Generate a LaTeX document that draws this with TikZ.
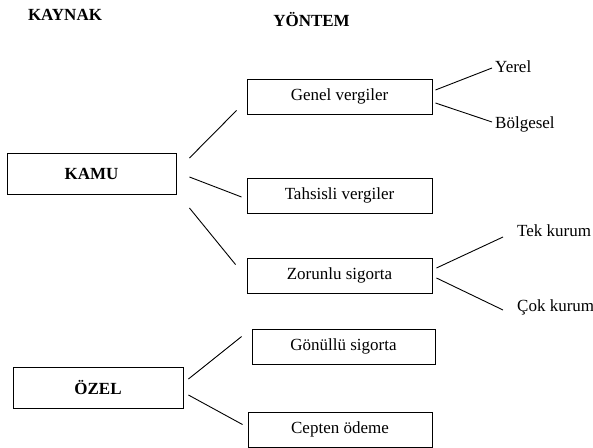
\documentclass[tikz,border=0pt]{standalone}
\usepackage{fontspec}
\setmainfont{Liberation Serif}
\begin{document}
\begin{tikzpicture}[x=1pt,y=-1pt,
  every node/.style={font=\fontsize{17}{20}\selectfont},
  bigbox/.style={draw,line width=0.9pt,minimum width=169pt,minimum height=41pt,inner sep=0pt,font=\fontsize{17}{20}\selectfont\bfseries},
  subbox/.style={draw,line width=0.9pt,minimum width=185pt,minimum height=35pt,inner sep=0pt},
  leaf/.style={anchor=west,inner sep=0pt},
  title/.style={inner sep=0pt,font=\fontsize{17}{20}\selectfont\bfseries},
  conn/.style={line width=0.9pt}]
\useasboundingbox (0,0) rectangle (593,447);
\node[title] (kaynak) at (65,15) {KAYNAK};
\node[title] (yontem) at (311.5,20) {YÖNTEM};
\node[bigbox] (kamu) at (91.5,173.5) {KAMU};
\node[bigbox,minimum width=170pt] (ozel) at (98,387.5) {ÖZEL};
\node[subbox] (genel) at (339.5,96.5) {Genel vergiler};
\node[subbox] (tahsisli) at (339.5,195.5) {Tahsisli vergiler};
\node[subbox] (zorunlu) at (339.5,275.5) {Zorunlu sigorta};
\node[subbox,minimum width=183pt] (gonullu) at (343.5,346.5) {Gönüllü sigorta};
\node[subbox,minimum width=184pt] (cepten) at (340,429.5) {Cepten ödeme};
\node[leaf] (yerel) at (495,67) {Yerel};
\node[leaf] (bolgesel) at (495,124) {Bölgesel};
\node[leaf] (tek) at (517,231) {Tek kurum};
\node[leaf] (cok) at (517,307) {Çok kurum};
% KAMU connectors
\draw[conn] ([xshift=13pt,yshift=15.5pt]kamu.east) -- ([xshift=-10pt,yshift=4pt]genel.south west);
\draw[conn] ([xshift=13pt,yshift=-3.5pt]kamu.east) -- ([xshift=-5pt,yshift=-1.5pt]tahsisli.west);
\draw[conn] ([xshift=13pt,yshift=-34.5pt]kamu.east) -- ([xshift=-11pt,yshift=-7pt]zorunlu.north west);
% OZEL connectors
\draw[conn] ([xshift=5pt,yshift=8.5pt]ozel.east) -- ([xshift=-10pt,yshift=-8pt]gonullu.north west);
\draw[conn] ([xshift=5pt,yshift=-7.5pt]ozel.east) -- ([xshift=-5pt,yshift=-13pt]cepten.north west);
% Genel connectors
\draw[conn] ([xshift=3pt,yshift=6.5pt]genel.east) -- ([xshift=-3pt,yshift=-1pt]yerel.west);
\draw[conn] ([xshift=3pt,yshift=-6.5pt]genel.east) -- ([xshift=-3pt,yshift=2pt]bolgesel.west);
% Zorunlu connectors
\draw[conn] ([xshift=4pt,yshift=7.5pt]zorunlu.east) -- ([xshift=-14pt,yshift=-6pt]tek.west);
\draw[conn] ([xshift=4pt,yshift=-2.5pt]zorunlu.east) -- ([xshift=-14pt,yshift=-3pt]cok.west);
\end{tikzpicture}
\end{document}
